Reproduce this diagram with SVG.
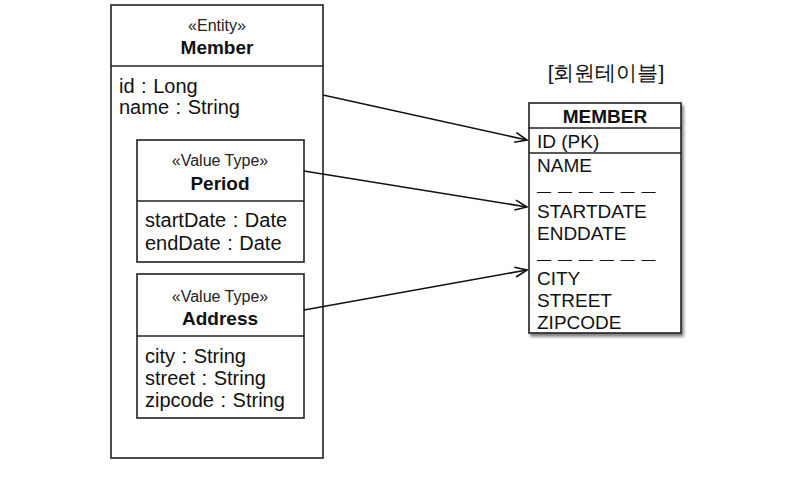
<svg xmlns="http://www.w3.org/2000/svg" width="792" height="485" viewBox="0 0 792 485">
<defs>
<style>
.box{fill:#fff;stroke:#222;stroke-width:1.6}
.ln{stroke:#222;stroke-width:1.6;fill:none}
.t{font-family:"Liberation Sans",Arial,sans-serif;fill:#111}
.st{font-size:16px;text-anchor:middle;fill:#222}
.nm{font-size:19px;font-weight:bold;text-anchor:middle}
.at{font-size:20px;word-spacing:1px}
.col{font-size:19px}
.dash{font-size:14px;word-spacing:3px}
.conn{stroke:#111;stroke-width:1.6;fill:none;marker-end:url(#arr)}
</style>
<marker id="arr" markerWidth="14" markerHeight="12" refX="13" refY="6" orient="auto" markerUnits="userSpaceOnUse">
<path d="M1,1 L13,6 L1,11" fill="none" stroke="#111" stroke-width="1.6"/>
</marker>
<filter id="sh" x="-10%" y="-10%" width="130%" height="130%">
<feGaussianBlur in="SourceAlpha" stdDeviation="1.5"/>
<feOffset dx="2" dy="3"/>
<feComponentTransfer><feFuncA type="linear" slope="0.5"/></feComponentTransfer>
<feMerge><feMergeNode/><feMergeNode in="SourceGraphic"/></feMerge>
</filter>
</defs>
<rect width="792" height="485" fill="#fff"/>
<g id="member">
<rect class="box" x="111" y="5" width="212" height="453"/>
<line class="ln" x1="111" y1="66" x2="323" y2="66"/>
<text class="t st" x="217" y="31">«Entity»</text>
<text class="t nm" x="217" y="54">Member</text>
<text class="t at" x="119" y="93">id : Long</text>
<text class="t at" x="119" y="114">name : String</text>
</g>
<g id="period">
<rect class="box" x="137" y="140" width="167" height="122"/>
<line class="ln" x1="137" y1="201" x2="304" y2="201"/>
<text class="t st" x="220" y="166">«Value Type»</text>
<text class="t nm" x="220" y="190">Period</text>
<text class="t at" x="145" y="227">startDate : Date</text>
<text class="t at" x="145" y="250">endDate : Date</text>
</g>
<g id="address">
<rect class="box" x="137" y="274" width="167" height="144"/>
<line class="ln" x1="137" y1="336" x2="304" y2="336"/>
<text class="t st" x="220" y="302">«Value Type»</text>
<text class="t nm" x="220" y="325">Address</text>
<text class="t at" x="145" y="363">city : String</text>
<text class="t at" x="145" y="385">street : String</text>
<text class="t at" x="145" y="407">zipcode : String</text>
</g>
<g id="table">
<text class="t" x="606" y="80" font-size="21" text-anchor="middle" font-family="'Liberation Sans','Noto Sans CJK KR',sans-serif">[회원테이블]</text>
<rect class="box" x="529" y="103" width="152" height="230" filter="url(#sh)"/>
<line class="ln" x1="529" y1="128" x2="681" y2="128"/>
<line class="ln" x1="529" y1="153" x2="681" y2="153"/>
<text class="t nm" x="605" y="123">MEMBER</text>
<text class="t col" x="537" y="148">ID (PK)</text>
<text class="t col" x="537" y="172">NAME</text>
<text class="t dash" x="537" y="196">— — — — — —</text>
<text class="t col" x="537" y="218">STARTDATE</text>
<text class="t col" x="537" y="240">ENDDATE</text>
<text class="t dash" x="537" y="264">— — — — — —</text>
<text class="t col" x="537" y="285">CITY</text>
<text class="t col" x="537" y="307">STREET</text>
<text class="t col" x="537" y="329">ZIPCODE</text>
</g>
<g id="connectors">
<line class="conn" x1="323" y1="95" x2="527" y2="140"/>
<line class="conn" x1="304" y1="171" x2="527" y2="207"/>
<line class="conn" x1="304" y1="310" x2="527" y2="270"/>
</g>
</svg>
